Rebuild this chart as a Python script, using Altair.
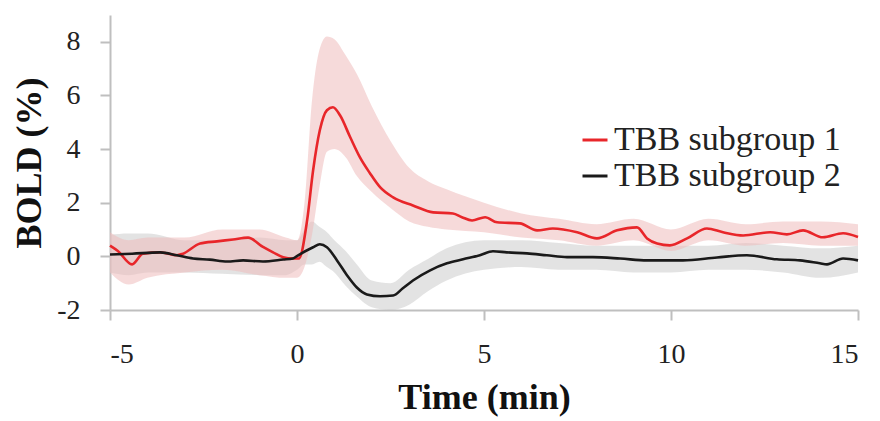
import altair as alt
import pandas as pd

# Mean traces (time in min, BOLD in %)
red_t = [-5.0, -4.79, -4.41, -4.12, -3.66, -3.21, -3.05, -2.59, -2.14, -1.71, -1.31, -0.91, -0.64, -0.37, -0.11, 0.05,
         0.27, 0.43, 0.61, 0.80, 0.96, 1.15, 1.42, 1.68, 1.95, 2.22, 2.57, 3.10, 3.64, 4.17, 4.41, 4.68, 5.03, 5.35,
         5.96, 6.42, 6.84, 7.49, 8.02, 8.56, 9.09, 9.36, 9.63, 9.97, 10.43, 10.96, 11.39, 11.93, 12.65, 13.10, 13.53,
         14.06, 14.60, 15.0]
red_v = [0.4, 0.2, -0.3, 0.1, 0.15, 0.04, 0.1, 0.48, 0.56, 0.63, 0.7, 0.35, 0.15, -0.03, -0.08, -0.08,
         1.34, 3.2, 4.7, 5.45, 5.56, 5.26, 4.45, 3.7, 3.1, 2.58, 2.2, 1.9, 1.64, 1.6, 1.46, 1.34, 1.46, 1.27,
         1.23, 0.97, 1.04, 0.9, 0.67, 0.97, 1.08, 0.67, 0.48, 0.41, 0.67, 1.04, 0.9, 0.78, 0.9, 0.82, 0.97,
         0.71, 0.86, 0.72]

blk_t = [-5.0, -4.41, -3.66, -3.21, -2.78, -2.33, -1.87, -1.44, -0.91, -0.37, -0.11, 0.03, 0.43, 0.61, 0.80, 1.07,
         1.34, 1.60, 1.87, 2.22, 2.57, 2.83, 3.10, 3.56, 4.01, 4.44, 4.89, 5.24, 5.61, 6.15, 6.68, 7.22, 7.91, 8.64,
         9.36, 9.71, 10.32, 11.23, 12.03, 12.83, 13.45, 13.98, 14.17, 14.60, 15.0]
blk_v = [0.07, 0.1, 0.15, 0.04, -0.08, -0.12, -0.19, -0.15, -0.19, -0.12, -0.08, 0.04, 0.34, 0.45, 0.34, -0.15,
         -0.71, -1.16, -1.42, -1.49, -1.46, -1.19, -0.9, -0.52, -0.26, -0.11, 0.04, 0.19, 0.15, 0.11, 0.04, -0.03, -0.03, -0.08,
         -0.15, -0.15, -0.15, -0.04, 0.04, -0.11, -0.15, -0.26, -0.3, -0.08, -0.15]

# Error bands
band_t = [-5, -4.5, -4, -3, -2, -1, -0.3, 0, 0.2, 0.4, 0.6, 0.8, 1.0, 1.3, 1.6, 2.0, 2.5, 3.0, 3.5, 4.0,
          5, 6, 7, 8, 9, 10, 11, 12, 13, 14, 15]
red_lo = [-0.6, -1.05, -0.8, -0.6, -0.5, -0.7, -0.8, -0.8, -0.4, 0.8, 2.6, 3.9, 4.0, 3.7, 3.0, 2.4, 1.8, 1.3, 1.1, 1.0,
          0.9, 0.7, 0.6, 0.4, 0.6, 0.2, 0.6, 0.4, 0.5, 0.4, 0.4]
red_hi = [0.9, 0.6, 0.7, 0.7, 1.0, 1.0, 0.7, 0.6, 2.0, 5.8, 7.7, 8.2, 8.1, 7.5, 6.8, 5.6, 4.3, 3.3, 2.8, 2.5,
          2.0, 1.6, 1.4, 1.2, 1.4, 1.0, 1.4, 1.2, 1.3, 1.3, 1.2]
gray_lo = [-0.6, -0.7, -0.6, -0.6, -0.65, -0.7, -0.7, -0.5, -0.3, -0.3, -0.2, -0.4, -0.6, -1.1, -1.5, -1.9, -2.0, -1.8, -1.3, -0.9,
           -0.5, -0.4, -0.5, -0.5, -0.6, -0.6, -0.5, -0.5, -0.6, -0.8, -0.6]
gray_hi = [0.8, 0.85, 0.85, 0.6, 0.6, 0.7, 0.6, 0.6, 1.0, 1.3, 1.1, 0.9, 0.6, 0.2, -0.3, -0.9, -1.0, -0.5, -0.1, 0.3,
           0.6, 0.6, 0.5, 0.4, 0.4, 0.4, 0.4, 0.5, 0.4, 0.3, 0.4]

series = ["TBB subgroup 1", "TBB subgroup 2"]
x_ticks = [-5, 0, 5, 10, 15]
y_ticks = [-2, 0, 2, 4, 6, 8]

FONT = "Liberation Serif"
HYPHEN = "'' + datum.value"

lines_df = pd.concat([
    pd.DataFrame({"t": red_t, "v": red_v, "s": series[0]}),
    pd.DataFrame({"t": blk_t, "v": blk_v, "s": series[1]}),
])
band_df = pd.DataFrame({"t": band_t, "rlo": red_lo, "rhi": red_hi, "glo": gray_lo, "ghi": gray_hi})

xs = alt.Scale(domain=[-5, 15], nice=False)
ys = alt.Scale(domain=[-2, 9], nice=False)

x_enc = alt.X("t:Q", scale=xs, axis=alt.Axis(values=x_ticks, title="Time (min)", titlePadding=12,
                                             labelExpr=HYPHEN))
y_axis = alt.Axis(values=y_ticks, title="BOLD (%)", titlePadding=8, labelExpr=HYPHEN)

gray_band = alt.Chart(band_df).mark_area(color="#c8c8c8", opacity=0.5, interpolate="monotone").encode(
    x=x_enc, y=alt.Y("glo:Q", scale=ys, axis=y_axis), y2="ghi:Q")
red_band = alt.Chart(band_df).mark_area(color="#eebcbc", opacity=0.55, interpolate="monotone").encode(
    x=x_enc, y=alt.Y("rlo:Q", scale=ys, axis=y_axis), y2="rhi:Q")

lines = alt.Chart(lines_df).mark_line(strokeWidth=2.6, interpolate="monotone").encode(
    x=x_enc,
    y=alt.Y("v:Q", scale=ys, axis=y_axis),
    color=alt.Color("s:N", scale=alt.Scale(domain=series, range=["#e8262a", "#1a1a1a"]),
                    legend=alt.Legend(title=None, orient="none", legendX=468, legendY=108,
                                      symbolType="stroke", symbolSize=625, symbolStrokeWidth=3,
                                      labelFont=FONT, labelFontSize=34, labelColor="#222222",
                                      labelOffset=2, rowPadding=2, padding=0, labelLimit=400)),
    order=alt.Order("s:N", sort="ascending"),
)

chart = alt.layer(gray_band, red_band, lines).properties(
    width=748, height=295,
    autosize=alt.AutoSizeParams(type="none"),
    padding={"left": 102, "top": 7, "right": 14, "bottom": 110},
).configure_view(stroke=None).configure_axis(
    grid=False,
    domainColor="#bfbfbf", domainWidth=2,
    tickColor="#bfbfbf", tickWidth=2, tickSize=10,
    labelFont=FONT, labelFontSize=28, labelColor="#222222", labelPadding=20,
    titleFont=FONT, titleFontSize=36, titleFontWeight="bold", titleColor="#111111",
)

chart.save("out.html", embed_options={"renderer": "svg", "actions": False})
